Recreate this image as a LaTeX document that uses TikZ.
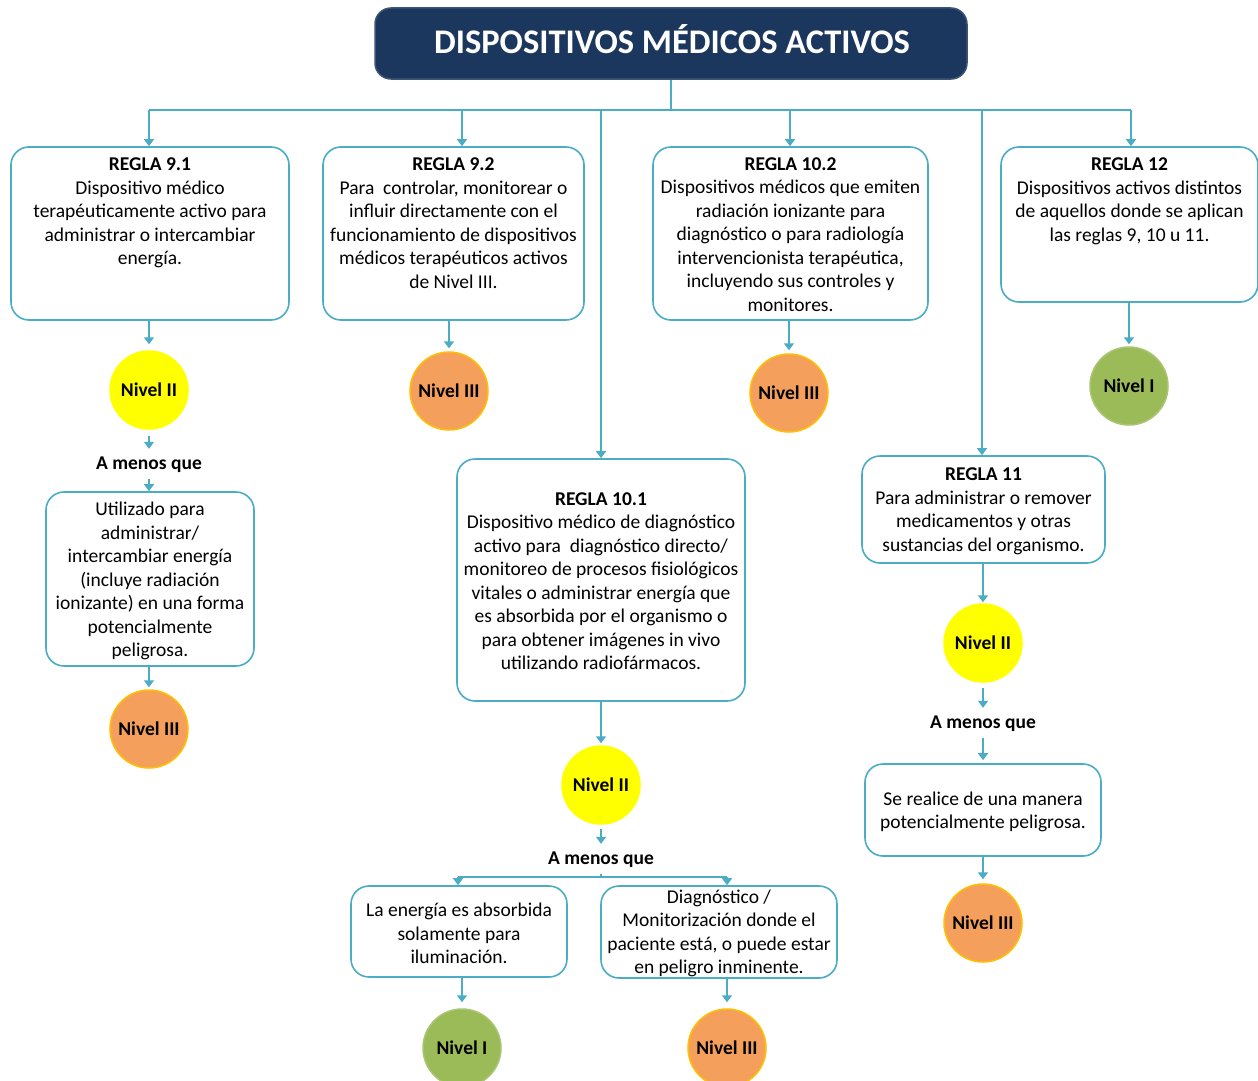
\documentclass[tikz,border=0pt]{standalone}
\usepackage{fontspec}
\setmainfont{Carlito}
\usetikzlibrary{arrows.meta}
\definecolor{navy}{HTML}{1C375E}
\definecolor{linec}{HTML}{4BACC6}
\definecolor{lvyellow}{HTML}{FFFF00}
\definecolor{lvorange}{HTML}{F4A05C}
\definecolor{lvorangeb}{HTML}{FFC000}
\definecolor{lvgreen}{HTML}{9BBB59}
\begin{document}
\begin{tikzpicture}[x=1pt,y=-1pt,
  ln/.style={draw=linec, line width=1.5pt},
  arr/.style={draw=linec, line width=1.5pt, -{Triangle[width=10pt,length=7pt]}},
  box/.style={draw=linec, line width=1.6pt, rounded corners=18pt, fill=white, inner sep=0pt},
  txt/.style={align=center, font=\fontsize{19.5}{23.5}\selectfont, inner sep=0pt},
  amq/.style={font=\fontsize{19.5}{22}\selectfont\bfseries, minimum height=28pt, inner sep=0pt},
  lvl/.style={circle, minimum size=78pt, inner sep=0pt, line width=1.5pt, font=\fontsize{19.5}{22}\selectfont\bfseries},
  lvII/.style={lvl, fill=lvyellow, draw=lvyellow},
  lvIII/.style={lvl, fill=lvorange, draw=lvorangeb},
  lvI/.style={lvl, fill=lvgreen, draw=lvgreen!85!white},
]
\clip (0,0) rectangle (1258,1081);
\fill[white] (0,0) rectangle (1258,1081);

% title
\node[fill=navy, draw=navy!85!white, line width=1.5pt, rounded corners=16pt,
      minimum width=592pt, minimum height=71pt, inner sep=0pt] (title) at (671,43.5) {};
\node[anchor=base, inner sep=0pt, text=white, font=\fontsize{34.5}{38}\selectfont\bfseries] (ttitle) at (672,54) {DISPOSITIVOS MÉDICOS ACTIVOS};

% rule boxes
\node[box, minimum width=278pt, minimum height=173pt] (r91) at (150,233.5) {};
\node[txt] (t91) at (150,213) {\textbf{REGLA 9.1}\\Dispositivo médico\\terapéuticamente activo para\\administrar o intercambiar\\energía.};

\node[box, minimum width=261pt, minimum height=173pt] (r92) at (453.5,233.5) {};
\node[txt] (t92) at (453.5,223) {\textbf{REGLA 9.2}\\Para\ \ controlar, monitorear o\\influir directamente con el\\funcionamiento de dispositivos\\médicos terapéuticos activos\\de Nivel III.};

\node[box, minimum width=275pt, minimum height=173pt] (r102) at (790.5,233.5) {};
\node[txt] (t102) at (790.5,234.5) {\textbf{REGLA 10.2}\\Dispositivos médicos que emiten\\radiación ionizante para\\diagnóstico o para radiología\\intervencionista terapéutica,\\incluyendo sus controles y\\monitores.};

\node[box, minimum width=257pt, minimum height=155pt] (r12) at (1129.5,224.5) {};
\node[txt] (t12) at (1129.5,201.5) {\textbf{REGLA 12}\\Dispositivos activos distintos\\de aquellos donde se aplican\\las reglas 9, 10 u 11.};

\node[box, minimum width=288pt, minimum height=242pt] (r101) at (601,580) {};
\node[txt] (t101) at (601,581) {\textbf{REGLA 10.1}\\Dispositivo médico de diagnóstico\\activo para\ \ diagnóstico directo/\\monitoreo de procesos fisiológicos\\vitales o administrar energía que\\es absorbida por el organismo o\\para obtener imágenes in vivo\\utilizando radiofármacos.};

\node[box, minimum width=243pt, minimum height=107pt] (r11) at (983.5,509.5) {};
\node[txt] (t11) at (983.5,511.5) {\textbf{REGLA 11}\\Para administrar o remover\\medicamentos y otras\\sustancias del organismo.};

\node[box, minimum width=208pt, minimum height=174pt] (util) at (150,579) {};
\node[txt] (tutil) at (150,581) {Utilizado para\\administrar/\\intercambiar energía\\(incluye radiación\\ionizante) en una forma\\potencialmente\\peligrosa.};

\node[box, minimum width=236pt, minimum height=92pt] (sr) at (983,810) {};
\node[txt] (tsr) at (983,812) {Se realice de una manera\\potencialmente peligrosa.};

\node[box, minimum width=216pt, minimum height=91pt] (en) at (459,931.5) {};
\node[txt] (ten) at (459,933.5) {La energía es absorbida\\solamente para\\iluminación.};

\node[box, minimum width=236pt, minimum height=92pt] (dg) at (719,932) {};
\node[txt] (tdg) at (719,933.5) {Diagnóstico /\\Monitorización donde el\\paciente está, o puede estar\\en peligro inminente.};

% "A menos que"
\node[amq] (am1) at (149,465) {A menos que};
\node[amq] (am2) at (601,860) {A menos que};
\node[amq] (am3) at (983,724) {A menos que};

% level circles
\node[lvII]  (n91)  at (149,390)  {Nivel II};
\node[lvIII] (n92)  at (449,391)  {Nivel III};
\node[lvIII] (n102) at (789,393)  {Nivel III};
\node[lvI]   (n12)  at (1129,386) {Nivel I};
\node[lvIII] (n91b) at (149,729)  {Nivel III};
\node[lvII]  (n101) at (601,785)  {Nivel II};
\node[lvII]  (n11)  at (983,643)  {Nivel II};
\node[lvIII] (n11b) at (983,923)  {Nivel III};
\node[lvI]   (nE)   at (462,1048) {Nivel I};
\node[lvIII] (nD)   at (727,1048) {Nivel III};

% top distribution
\coordinate (hub) at (671,110);
\coordinate (hL) at (149,110);
\coordinate (hR) at (1131,110);
\coordinate (d92) at (462,110);
\coordinate (d101) at (601,110);
\coordinate (d102) at (790,110);
\coordinate (d11) at (982,110);
\draw[ln] (title.south) -- (hub);
\draw[ln] (hL) -- (hR);
\draw[arr] (hL) -- (hL |- r91.north);
\draw[arr] (d92) -- (d92 |- r92.north);
\draw[arr] (d101) -- (d101 |- r101.north);
\draw[arr] (d102) -- (d102 |- r102.north);
\draw[arr] (d11) -- (d11 |- r11.north);
\draw[arr] (hR) -- (hR |- r12.north);

% column 9.1
\draw[arr, shorten >=6pt] (n91 |- r91.south) -- (n91.north);
\draw[arr, shorten <=6pt, shorten >=2pt] (n91.south) -- (am1.north);
\draw[arr] (am1.south) -- (am1.south |- util.north);
\draw[arr, shorten >=2pt] (n91b |- util.south) -- (n91b.north);

% 9.2, 10.2, 12
\draw[arr, shorten >=3pt] (n92 |- r92.south) -- (n92.north);
\draw[arr, shorten >=3pt] (n102 |- r102.south) -- (n102.north);
\draw[arr, shorten >=2pt] (n12 |- r12.south) -- (n12.north);

% 10.1
\draw[arr, shorten >=2pt] (r101.south) -- (n101.north);
\draw[arr, shorten <=4pt, shorten >=2pt] (n101.south) -- (am2.north);
\coordinate (sp) at (601,877);
\coordinate (spL) at (458,877);
\coordinate (spR) at (727,877);
\draw[ln] (am2.south) -- (sp);
\draw[ln] (spL) -- (spR);
\draw[arr] (spL) -- (spL |- en.north);
\draw[arr] (spR) -- (spR |- dg.north);
\draw[arr, shorten >=6pt] (nE |- en.south) -- (nE.north);
\draw[arr, shorten >=6pt] (nD |- dg.south) -- (nD.north);

% 11
\draw[arr, shorten >=1pt] (n11 |- r11.south) -- (n11.north);
\draw[arr, shorten <=5pt, shorten >=2pt] (n11.south) -- (am3.north);
\draw[arr, shorten >=3pt] (am3.south) -- (sr.north);
\draw[arr, shorten >=4pt] (n11b |- sr.south) -- (n11b.north);
\end{tikzpicture}
\end{document}
